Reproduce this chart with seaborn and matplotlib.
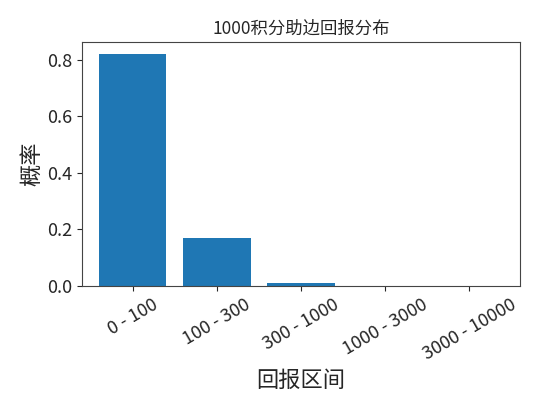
import matplotlib
matplotlib.use("Agg")
import matplotlib.pyplot as plt
import seaborn as sns
import pandas as pd

categories = ["0 - 100", "100 - 300", "300 - 1000", "1000 - 3000", "3000 - 10000"]
probabilities = [0.821, 0.168, 0.010, 0.0006, 0.0001]

sns.set_style("ticks")
plt.rcParams['font.family'] = ['Noto Sans CJK SC', 'DejaVu Sans']
plt.rcParams['axes.unicode_minus'] = False

df = pd.DataFrame({"区间": categories, "概率": probabilities})

fig, ax = plt.subplots(figsize=(5.4, 4.05), dpi=100)
fig.subplots_adjust(left=0.152, right=0.963, top=0.896, bottom=0.294)
sns.barplot(data=df, x="区间", y="概率", color="#1f77b4", saturation=1, width=0.8,
            linewidth=0, ax=ax)
ax.set_xlim(-0.6, 4.6)
ax.set_ylim(0, 0.862)
ax.set_yticks([0, 0.2, 0.4, 0.6, 0.8])
ax.set_title("1000积分助边回报分布", fontsize=12.5)
ax.set_xlabel("回报区间", fontsize=16)
ax.set_ylabel("概率", fontsize=16, labelpad=3)
ax.tick_params(axis='both', labelsize=13)
plt.setp(ax.get_xticklabels(), rotation=30)
for s in ax.spines.values():
    s.set_visible(True)
    s.set_color("#444444")
fig.savefig("out.png", dpi=100)
